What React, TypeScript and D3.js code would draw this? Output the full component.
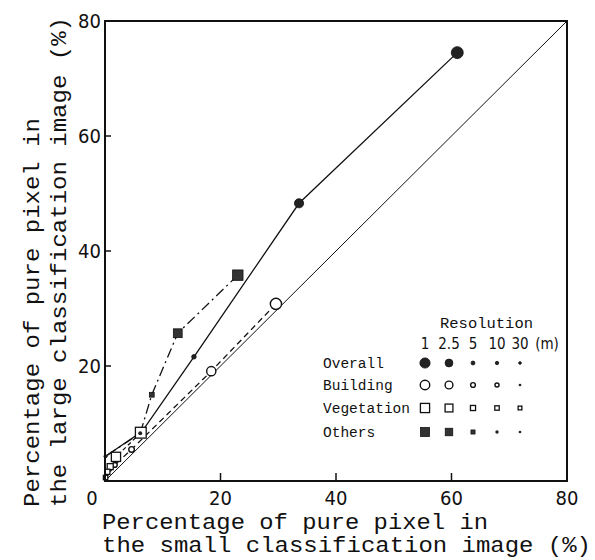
import React from "react";
import * as d3 from "d3";

// ---- data ----
const resolutions = ["1", "2.5", "5", "10", "30"];
const categories = ["Overall", "Building", "Vegetation", "Others"];

const overallX = [61, 33.6, 15.4, 6.4, 0.1];
const overallY = [74.5, 48.3, 21.6, 8.6, 4.3];

const buildingX = [29.6, 18.4, 4.6, 1.7, 0.3];
const buildingY = [30.8, 19.1, 5.5, 2.8, 0.7];

const vegetationX = [6.2, 1.9, 0.9, 0.4, 0.1];
const vegetationY = [8.4, 4.2, 2.5, 1.6, 0.6];

const othersX = [23.0, 12.6, 8.1, 6.1, 0.1];
const othersY = [35.8, 25.7, 15.0, 8.3, 4.3];

const xTicks = [20, 40, 60, 80];
const yTicks = [20, 40, 60, 80];

const W = 595;
const H = 560;
const M = { left: 105, right: 567, top: 21, bottom: 481 };

const x = d3.scaleLinear().domain([0, 80]).range([M.left, M.right]);
const y = d3.scaleLinear().domain([0, 80]).range([M.bottom, M.top]);

const series = [
  { name: "Overall", xs: overallX, ys: overallY, dash: "none", shape: "circle", filled: true },
  { name: "Building", xs: buildingX, ys: buildingY, dash: "6,4", shape: "circle", filled: false },
  { name: "Vegetation", xs: vegetationX, ys: vegetationY, dash: "4,3", shape: "square", filled: false },
  { name: "Others", xs: othersX, ys: othersY, dash: "10,4,2,4", shape: "square", filled: true },
];

// marker sizes per resolution index
const circleR = [6, 4.6, 2.3, 2, 1.6];
const openCircleR = [5.6, 4.6, 2.8, 2.4, 1.6];
const squareH = [5.4, 4.6, 3, 2.6, 2.2];
const filledSquareH = [5.2, 4.4, 2.4, 2, 1.6];

function Mark({ s, i, cx, cy, k = 1 }: any) {
  if (s.shape === "circle") {
    if (s.filled) {
      return <circle cx={cx} cy={cy} r={circleR[i] * k} fill="#222" stroke="#111" strokeWidth={0.8} />;
    }
    if (i === 4) return <circle cx={cx} cy={cy} r={1.6 * k} fill="#222" />;
    return <circle cx={cx} cy={cy} r={openCircleR[i] * k} fill="#fff" stroke="#111" strokeWidth={1.4} />;
  }
  if (s.filled) {
    if (i >= 3) return <circle cx={cx} cy={cy} r={filledSquareH[i] * k} fill="#222" />;
    const h = filledSquareH[i] * k;
    return <rect x={cx - h} y={cy - h} width={2 * h} height={2 * h} fill="#333" stroke="#111" strokeWidth={0.8} />;
  }
  const h = squareH[i] * k;
  return <rect x={cx - h} y={cy - h} width={2 * h} height={2 * h} fill="#fff" stroke="#111" strokeWidth={1.3} />;
}

const tickFont = "'Liberation Sans Narrow', 'DejaVu Sans Condensed', 'Roboto Condensed', sans-serif";
const monoFont = "'Liberation Mono', 'DejaVu Sans Mono', monospace";

export default function App() {
  const pathFor = (xs: number[], ys: number[]) =>
    d3.line<number>().x((_, i) => x(xs[i])).y((_, i) => y(ys[i]))(xs) || "";

  const legendCols = [425, 449, 473, 497, 520];
  const legendRows = [363, 385, 408, 432];

  return (
    <svg
      width={W}
      height={H}
      viewBox={`0 0 ${W} ${H}`}
      style={{ position: "absolute", left: 0, top: 0, background: "#fff" }}
    >
      <rect x={0} y={0} width={W} height={H} fill="#fff" />
      {/* diagonal 1:1 line */}
      <line x1={x(0)} y1={y(0)} x2={x(80)} y2={y(80)} stroke="#111" strokeWidth={1} />

      {/* series lines */}
      {series.map((s) => (
        <path
          key={s.name}
          d={pathFor(s.xs, s.ys)}
          fill="none"
          stroke="#111"
          strokeWidth={1.3}
          strokeDasharray={s.dash === "none" ? undefined : s.dash}
        />
      ))}

      {/* markers */}
      {series.map((s) =>
        s.xs.map((v, i) => (
          <Mark key={s.name + i} s={s} i={i} cx={x(v)} cy={y(s.ys[i])} />
        ))
      )}

      {/* frame */}
      <rect
        x={M.left}
        y={M.top}
        width={M.right - M.left}
        height={M.bottom - M.top}
        fill="none"
        stroke="#111"
        strokeWidth={2}
      />

      {/* ticks */}
      {xTicks.slice(0, 3).map((t) => (
        <line key={"xt" + t} x1={x(t)} x2={x(t)} y1={y(0)} y2={y(0) - 8} stroke="#111" strokeWidth={1.5} />
      ))}
      {yTicks.slice(0, 3).map((t) => (
        <line key={"yt" + t} x1={x(0)} x2={x(0) + 6} y1={y(t)} y2={y(t)} stroke="#111" strokeWidth={1.5} />
      ))}

      {/* tick labels */}
      <g fontFamily={tickFont} fontSize={20} fill="#111" style={{ fontStretch: "condensed" }}>
        <text x={x(0) - 13} y={505} textAnchor="middle">0</text>
        {xTicks.map((t) => (
          <text key={"xl" + t} x={x(t)} y={505} textAnchor="middle">
            {t}
          </text>
        ))}
        {yTicks.map((t) => (
          <text key={"yl" + t} x={101} y={y(t) + 7} textAnchor="end">
            {t}
          </text>
        ))}
      </g>

      {/* axis titles */}
      <g fontFamily={monoFont} fontSize={22} fill="#111">
        <text x={102} y={529} textLength={386} lengthAdjust="spacingAndGlyphs">
          Percentage of pure pixel in
        </text>
        <text x={102} y={552} textLength={489} lengthAdjust="spacingAndGlyphs">
          the small classification image (%)
        </text>
        <text transform={`translate(39,507) rotate(-90)`} textLength={389} lengthAdjust="spacingAndGlyphs">
          Percentage of pure pixel in
        </text>
        <text transform={`translate(66,507) rotate(-90)`} textLength={490} lengthAdjust="spacingAndGlyphs">
          the large classification image (%)
        </text>
      </g>

      {/* legend */}
      <g fill="#111">
        <text x={440} y={328} fontFamily={monoFont} fontSize={15.5} textLength={93} lengthAdjust="spacingAndGlyphs">
          Resolution
        </text>
        <g fontFamily={tickFont} fontSize={15} style={{ fontStretch: "condensed" }}>
          {resolutions.map((r, i) => (
            <text key={"lr" + r} x={legendCols[i]} y={349} textAnchor="middle">
              {r}
            </text>
          ))}
          <text x={547} y={349} textAnchor="middle">(m)</text>
        </g>
        {series.map((s, j) => (
          <g key={"lg" + s.name}>
            <text x={323} y={legendRows[j] + 5} fontFamily={monoFont} fontSize={14.5}>
              {categories[j]}
            </text>
            {resolutions.map((r, i) => (
              <Mark key={r} s={s} i={i} cx={legendCols[i]} cy={legendRows[j]} k={0.85} />
            ))}
          </g>
        ))}
      </g>
    </svg>
  );
}
